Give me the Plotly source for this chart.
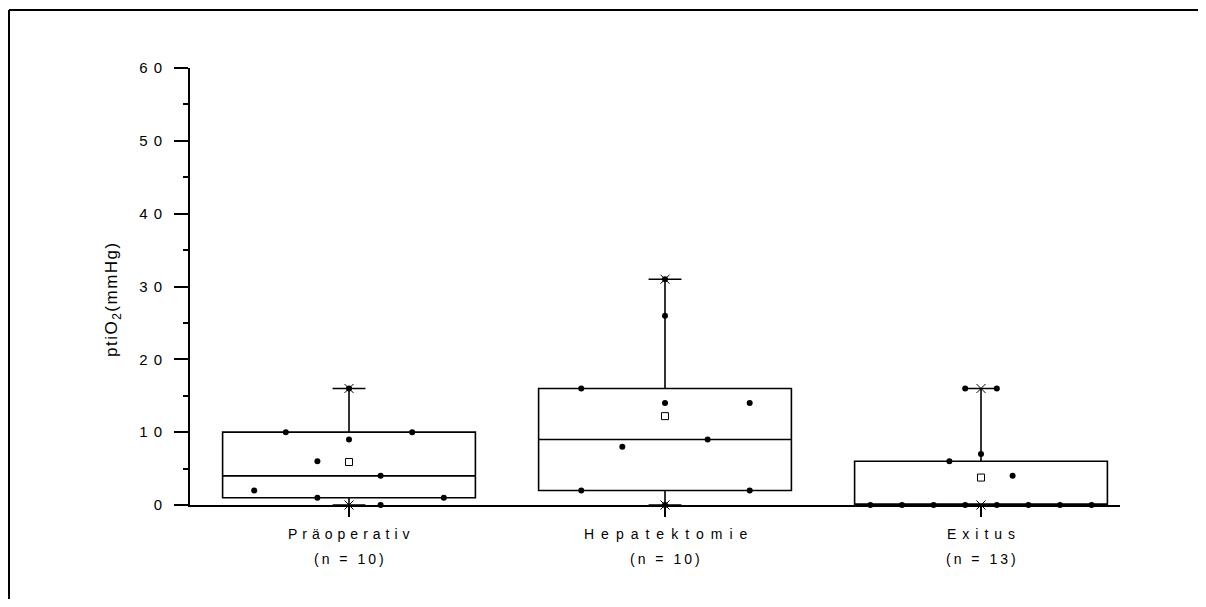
import numpy as np
import plotly.graph_objects as go

# ---------------- data ----------------
categories = ["Präoperativ", "Hepatektomie", "Exitus"]
n_labels = ["(n = 10)", "(n = 10)", "(n = 13)"]

q1 = [1, 2, 0]
median = [4, 9, 0]
q3 = [10, 16, 6]
whisker_low = [0, 0, 0]
whisker_high = [16, 31, 16]

values_pre = [16, 10, 10, 9, 6, 4, 2, 1, 1, 0]
values_hep = [31, 26, 16, 14, 14, 9, 8, 2, 2, 0]
values_exi = [16, 16, 7, 6, 4, 0, 0, 0, 0, 0, 0, 0, 0]

y_ticks = [0, 10, 20, 30, 40, 50, 60]

# ---------------- layout helpers (positions / styles) ----------------
offsets_pre = [0, -0.2, 0.2, 0, -0.1, 0.1, -0.3, -0.1, 0.3, 0.1]
offsets_hep = [0, 0, -0.265, 0, 0.268, 0.135, -0.135, -0.265, 0.268, 0]
offsets_exi = [-0.05, 0.05, 0, -0.1, 0.1, -0.35, -0.25, -0.15, -0.05, 0.05, 0.15, 0.25, 0.35]

groups = [values_pre, values_hep, values_exi]
offsets = [offsets_pre, offsets_hep, offsets_exi]
means = [float(np.mean(v)) for v in groups]
xpos = list(range(len(categories)))

FONT = "Liberation Sans, Arial, sans-serif"

# figure sized to fit the window inside the page's default 8px body margin
PAGE_OFF = 8
W, H = 1190, 591
# plot area in page pixels: x 190..1120, y 68..505
L, R, T, B = 190 - PAGE_OFF, W - (1120 - PAGE_OFF), 68 - PAGE_OFF, H - (505 - PAGE_OFF)
CAT0, CAT_STEP = 349 - PAGE_OFF, 316

def py(p):  # page pixel y -> paper
    p -= PAGE_OFF
    return (H - B - p) / (H - T - B)

def px(p):  # page pixel x -> paper
    p -= PAGE_OFF
    return (p - L) / (W - L - R)

fig = go.Figure()

fig.add_trace(go.Box(
    x=xpos, q1=q1, median=median, q3=q3,
    lowerfence=whisker_low, upperfence=whisker_high,
    width=0.8, whiskerwidth=0.13,
    fillcolor="white", line=dict(color="black", width=1.6),
    boxpoints=False, showlegend=False, hoverinfo="skip",
))

# individual points
for i, (vals, offs) in enumerate(zip(groups, offsets)):
    fig.add_trace(go.Scatter(
        x=[i + o for o in offs], y=vals, mode="markers",
        marker=dict(symbol="circle", size=6, color="black"),
        showlegend=False, cliponaxis=False, hoverinfo="skip",
    ))

# whisker end markers
fig.add_trace(go.Scatter(
    x=xpos + xpos, y=whisker_high + whisker_low, mode="markers",
    marker=dict(symbol="x-thin", size=9, line=dict(color="black", width=1)),
    showlegend=False, cliponaxis=False, hoverinfo="skip",
))

# mean markers
fig.add_trace(go.Scatter(
    x=xpos, y=means, mode="markers",
    marker=dict(symbol="square-open", size=7, color="black", line=dict(width=1)),
    showlegend=False, cliponaxis=False, hoverinfo="skip",
))

annotations = []
for i, (c, n) in enumerate(zip(categories, n_labels)):
    ls = [5, 7, 6][i]
    annotations.append(dict(
        x=i, y=py(524), xref="x", yref="paper", xanchor="center", yanchor="top",
        text=f"<span style='letter-spacing:{ls}px'>{c}</span>", showarrow=False,
        xshift=ls / 2, font=dict(family=FONT, size=14, color="black")))
    annotations.append(dict(
        x=i, y=py(549), xref="x", yref="paper", xanchor="center", yanchor="top",
        text=f"<span style='letter-spacing:3px'>{n}</span>", showarrow=False,
        xshift=1.5, font=dict(family=FONT, size=14, color="black")))

annotations.append(dict(
    x=px(113), y=py(299), xref="paper", yref="paper", xanchor="center", yanchor="middle",
    text="<span style='letter-spacing:1.5px'>ptiO<sub>2</sub>(mmHg)</span>", textangle=-90,
    showarrow=False, font=dict(family=FONT, size=17, color="black")))

# outer frame (top and left edges visible in the reference)
shapes = [
    dict(type="line", xref="paper", yref="paper", x0=px(9), x1=px(1300), y0=py(10), y1=py(10),
         line=dict(color="black", width=2)),
    dict(type="line", xref="paper", yref="paper", x0=px(9), x1=px(9), y0=py(10), y1=py(700),
         line=dict(color="black", width=2)),
]

fig.update_layout(
    width=W, height=H,
    margin=dict(l=L, r=R, t=T, b=B, pad=0),
    paper_bgcolor="white", plot_bgcolor="white",
    font=dict(family=FONT, size=14, color="black"),
    annotations=annotations, shapes=shapes,
    xaxis=dict(
        range=[(L - CAT0) / CAT_STEP, (W - R - CAT0) / CAT_STEP],
        showline=True, linecolor="black", linewidth=2,
        tickmode="array", tickvals=xpos, showticklabels=False,
        ticks="outside", ticklen=10, tickwidth=2, tickcolor="black",
        showgrid=False, zeroline=False,
    ),
    yaxis=dict(
        range=[0, 60],
        showline=True, linecolor="black", linewidth=2,
        tickmode="array", tickvals=y_ticks,
        ticktext=[f"<span style='letter-spacing:6px'>{v}</span>" for v in y_ticks],
        ticks="outside", ticklen=14, tickwidth=1.5, tickcolor="black",
        ticklabelstandoff=3,
        minor=dict(dtick=5, ticks="outside", ticklen=5, tickwidth=1.5, tickcolor="black", showgrid=False),
        showgrid=False, zeroline=False,
        tickfont=dict(family=FONT, size=15, color="black"),
    ),
)

fig.write_html("out.html")
